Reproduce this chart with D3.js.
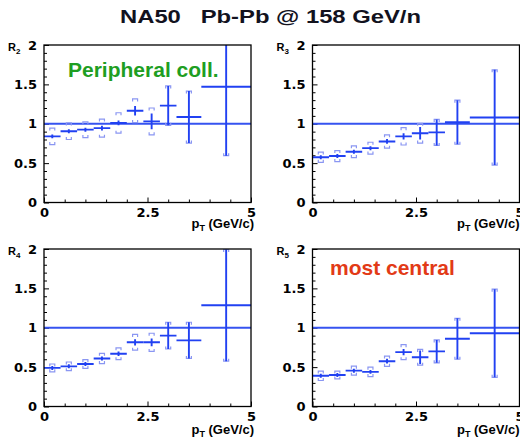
<!DOCTYPE html>
<meta charset="utf-8">
<style>

body {
  margin: 0;
  background: #fff;
}

svg {
  display: block;
}

.tick text {
  font: bold 13px "DejaVu Sans", sans-serif;
  fill: #000;
}

.tick line {
  stroke: #000;
  stroke-width: 1;
}

.frame {
  fill: none;
  stroke: #000;
  stroke-width: 1.3;
}

.unity {
  stroke: #3653f0;
  stroke-width: 1.8;
}

.bin {
  stroke: #2141f2;
  stroke-width: 1.9;
  fill: none;
}

.sys {
  stroke: #8a96f2;
  stroke-width: 1.2;
  fill: none;
}

.lbl {
  font-family: "Liberation Sans", Arial, sans-serif;
  font-weight: bold;
}

</style>
<body>
<svg width="520" height="441"></svg>

<script src="https://d3js.org/d3.v7.min.js"></script>
<script>

// pT bins (GeV/c)
var ptCenter = [0.2, 0.6, 1.0, 1.4, 1.8, 2.2, 2.6, 3.0, 3.5, 4.4];
var ptLow    = [0.0, 0.4, 0.8, 1.2, 1.6, 2.0, 2.4, 2.8, 3.2, 3.8];
var ptHigh   = [0.4, 0.8, 1.2, 1.6, 2.0, 2.4, 2.8, 3.2, 3.8, 5.0];

// ratios, stat and syst errors, one set per centrality bin
var r2Value = [0.84, 0.905, 0.925, 0.945, 1.01, 1.165, 1.03, 1.23, 1.085, 1.47];
var r2Stat  = [0.025, 0.025, 0.025, 0.03, 0.03, 0.06, 0.1, 0.25, 0.33, 0.875];
var r2Sys   = [0.105, 0.105, 0.10, 0.115, 0.13, 0.15, 0.17, 0.25, 0.33, 0.875];

var r3Value = [0.575, 0.59, 0.645, 0.69, 0.775, 0.84, 0.88, 0.89, 1.02, 1.08];
var r3Stat  = [0.025, 0.025, 0.025, 0.025, 0.03, 0.04, 0.08, 0.165, 0.28, 0.605];
var r3Sys   = [0.065, 0.07, 0.075, 0.075, 0.085, 0.11, 0.125, 0.165, 0.28, 0.605];

var r4Value = [0.49, 0.51, 0.54, 0.61, 0.67, 0.815, 0.815, 0.90, 0.84, 1.285];
var r4Stat  = [0.025, 0.025, 0.025, 0.025, 0.03, 0.04, 0.05, 0.17, 0.23, 0.71];
var r4Sys   = [0.05, 0.055, 0.055, 0.065, 0.075, 0.10, 0.115, 0.17, 0.23, 0.71];

var r5Value = [0.39, 0.40, 0.455, 0.44, 0.575, 0.69, 0.625, 0.70, 0.86, 0.93];
var r5Stat  = [0.025, 0.025, 0.025, 0.025, 0.03, 0.04, 0.085, 0.145, 0.26, 0.56];
var r5Sys   = [0.06, 0.05, 0.057, 0.06, 0.065, 0.095, 0.1, 0.145, 0.26, 0.56];

var xMajor = [0, 2.5, 5];
var yMajor = [0, 0.5, 1, 1.5, 2];

var svg = d3.select("svg"),
    pw = 207,
    ph = 157.5;

var panels = [
  {idx: "2", value: r2Value, stat: r2Stat, sys: r2Sys, left: 44,    top: 45,  labelY: 228},
  {idx: "3", value: r3Value, stat: r3Stat, sys: r3Sys, left: 312.5, top: 45,  labelY: 228},
  {idx: "4", value: r4Value, stat: r4Stat, sys: r4Sys, left: 44,    top: 249, labelY: 434},
  {idx: "5", value: r5Value, stat: r5Stat, sys: r5Sys, left: 312.5, top: 249, labelY: 434}
];

var x = d3.scaleLinear().domain([0, 5]).range([0, pw]),
    y = d3.scaleLinear().domain([0, 2]).range([ph, 0]);

var xMinor = d3.range(0.5, 5, 0.5).filter(function(d) { return xMajor.indexOf(d) < 0; }),
    yMinor = d3.range(1, 20).map(function(d) { return d / 10; })
               .filter(function(d) { return d % 0.5 > 0.001 && d % 0.5 < 0.499; });

svg.append("defs").append("clipPath")
    .attr("id", "clip")
  .append("rect")
    .attr("width", pw)
    .attr("height", ph);

svg.append("text")
    .attr("class", "lbl")
    .attr("x", 120)
    .attr("y", 23)
    .attr("font-size", 19)
    .attr("fill", "#12121e")
    .attr("textLength", 301)
    .attr("lengthAdjust", "spacingAndGlyphs")
    .style("white-space", "pre")
    .text("NA50   Pb-Pb @ 158 GeV/n");

panels.forEach(function(p) {
  var g = svg.append("g")
      .attr("transform", "translate(" + p.left + "," + p.top + ")");

  var pts = ptCenter.map(function(c, i) {
    return {x: c, lo: ptLow[i], hi: ptHigh[i], v: p.value[i], st: p.stat[i], sy: p.sys[i]};
  });

  // minor + major ticks, pointing inwards
  g.append("g")
      .attr("transform", "translate(0," + ph + ")")
      .call(d3.axisBottom(x).tickValues(xMinor).tickSize(-3).tickFormat(""))
      .call(function(a) { a.select(".domain").remove(); });

  g.append("g")
      .attr("transform", "translate(0," + ph + ")")
      .call(d3.axisBottom(x).tickValues(xMajor).tickSize(-5).tickPadding(5)
        .tickFormat(function(d) { return String(d); }))
      .call(function(a) { a.select(".domain").remove(); });

  g.append("g")
      .call(d3.axisLeft(y).tickValues(yMinor).tickSize(-3).tickFormat(""))
      .call(function(a) { a.select(".domain").remove(); });

  g.append("g")
      .call(d3.axisLeft(y).tickValues(yMajor).tickSize(-5).tickPadding(7)
        .tickFormat(function(d) { return String(d); }))
      .call(function(a) { a.select(".domain").remove(); });

  var plot = g.append("g").attr("clip-path", "url(#clip)");

  plot.append("line")
      .attr("class", "unity")
      .attr("x1", x(0))
      .attr("x2", x(5))
      .attr("y1", y(1))
      .attr("y2", y(1));

  // systematic brackets
  plot.selectAll(".sys")
      .data(pts)
    .enter().append("path")
      .attr("class", "sys")
      .attr("d", function(d) {
        var cx = x(d.x), yt = y(d.v + d.sy), yb = y(d.v - d.sy);
        return "M" + (cx - 2.5) + "," + (yt + 2.5) + "V" + yt + "H" + (cx + 2.5) + "V" + (yt + 2.5) +
               "M" + (cx - 2.5) + "," + (yb - 2.5) + "V" + yb + "H" + (cx + 2.5) + "V" + (yb - 2.5);
      });

  // bin width
  plot.selectAll(".hbar")
      .data(pts)
    .enter().append("line")
      .attr("class", "bin hbar")
      .attr("x1", function(d) { return x(d.lo); })
      .attr("x2", function(d) { return x(d.hi); })
      .attr("y1", function(d) { return y(d.v); })
      .attr("y2", function(d) { return y(d.v); });

  // statistical error
  plot.selectAll(".vbar")
      .data(pts)
    .enter().append("line")
      .attr("class", "bin vbar")
      .attr("x1", function(d) { return x(d.x); })
      .attr("x2", function(d) { return x(d.x); })
      .attr("y1", function(d) { return y(d.v - d.st); })
      .attr("y2", function(d) { return y(d.v + d.st); });

  g.append("rect")
      .attr("class", "frame")
      .attr("width", pw)
      .attr("height", ph);

  var yl = g.append("text")
      .attr("class", "lbl")
      .attr("x", -36)
      .attr("y", 6)
      .attr("font-size", 11)
      .text("R");
  yl.append("tspan")
      .attr("dy", 2.5)
      .attr("font-size", 8)
      .text(p.idx);

  var xl = g.append("text")
      .attr("class", "lbl")
      .attr("x", p.left < 100 ? pw + 3 : pw)
      .attr("y", p.labelY - p.top)
      .attr("text-anchor", "end")
      .attr("font-size", 13)
      .text("p");
  xl.append("tspan")
      .attr("dy", 3)
      .attr("font-size", 9)
      .text("T");
  xl.append("tspan")
      .attr("dy", -3)
      .style("white-space", "pre")
      .text(" (GeV/c)");
});

svg.append("text")
    .attr("class", "lbl")
    .attr("x", 68)
    .attr("y", 76.5)
    .attr("font-size", 21)
    .attr("fill", "#1e9e22")
    .text("Peripheral coll.");

svg.append("text")
    .attr("class", "lbl")
    .attr("x", 330)
    .attr("y", 275)
    .attr("font-size", 21)
    .attr("fill", "#e23a16")
    .text("most central");

</script>
</body>
